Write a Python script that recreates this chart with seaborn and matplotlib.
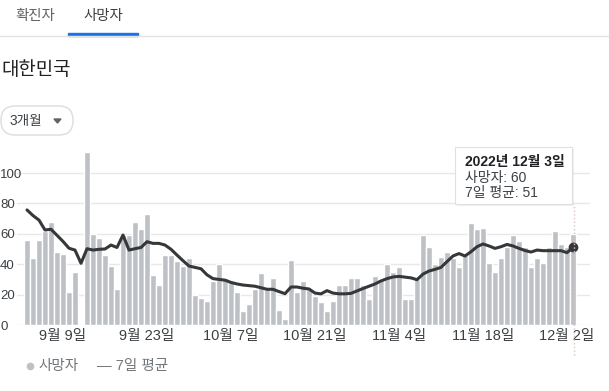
import numpy as np
import pandas as pd
import matplotlib.pyplot as plt
import seaborn as sns
from matplotlib.patches import FancyBboxPatch, Rectangle, Polygon
from matplotlib.lines import Line2D

# Daily deaths, Korea, 2022-09-03 .. 2022-12-03 (gap on 9/12 drawn as 0)
deaths = [56, 44, 56, 62, 68, 48, 47, 22, 35, 0, 114, 60, 57, 46, 39, 24,
          59, 59, 68, 63, 73, 33, 26, 46, 46, 42, 39, 44, 20, 18, 16, 29,
          40, 31, 28, 22, 9, 14, 24, 34, 24, 31, 10, 4, 43, 22, 29, 24,
          19, 15, 9, 16, 26, 26, 31, 31, 26, 17, 32, 30, 40, 35, 38, 17,
          17, 30, 59, 51, 40, 45, 48, 44, 38, 46, 67, 63, 64, 41, 35, 44,
          51, 59, 55, 51, 38, 44, 41, 51, 62, 53, 51, 60]

# 7-day average
avg7 = [75.7, 72, 69, 62.5, 63, 59, 55, 50.5, 49.3, 40.6, 50.2, 49.3, 49.8, 50, 52.6, 51,
        59.2, 49.3, 50.2, 51, 54.8, 53.7, 53.7, 52.6, 49.8, 46, 42.3, 38.8, 37.9, 37, 33, 30.5,
        30, 29.5, 28, 27, 26.3, 25.9, 25.5, 24.5, 23.5, 23.5, 22, 20.6, 25, 25, 24.2, 23.7,
        21, 20.5, 22.6, 21, 20.5, 20.5, 20.8, 22.4, 24, 25.5, 27, 29, 30.5, 31.6, 32, 31.5,
        31, 29.8, 33.5, 35.5, 36.6, 37.9, 41.7, 45.4, 47, 45.4, 48.2, 51.5, 53.3, 52, 50.4, 51.5,
        53, 52, 50.4, 49, 48, 49.3, 48.9, 48.9, 48.9, 48.9, 47.6, 51]

tick_days = [6, 20, 34, 48, 62, 76, 90]
tick_labels = ['9월 9일', '9월 23일', '10월 7일', '10월 21일', '11월 4일', '11월 18일', '12월 2일']
y_ticks = [0, 20, 40, 60, 80, 100]

df = pd.DataFrame({'day': np.arange(len(deaths)), 'deaths': deaths, 'avg': avg7})

sns.set_style('white')
plt.rcParams['font.family'] = ['Liberation Sans', 'Noto Sans CJK KR', 'DejaVu Sans']

W, H = 609, 391
fig = plt.figure(figsize=(W / 100, H / 100), dpi=100)


def P(x, y):
    # pixel (from top-left) -> inches for dpi_scale_trans
    return x / 100, (H - y) / 100


inch = fig.dpi_scale_trans

# chart area
ax = fig.add_axes([17 / W, 1 - 325 / H, (590 - 17) / W, (325 - 145) / H])
sns.barplot(data=df, x='day', y='deaths', native_scale=True, color='#bdc1c6',
            saturation=1, width=0.84, errorbar=None, ax=ax, zorder=2)
sns.lineplot(data=df, x='day', y='avg', color='#353739', lw=2.2, ax=ax, zorder=3)
ax.plot(df['day'].iloc[-1], df['avg'].iloc[-1], 'o', color='#353739', ms=6, zorder=4)

ax.set_xlim((17 - 27) / 6, (590 - 27) / 6)
ax.set_ylim(0, 180 / 1.52)
ax.set_xlabel('')
ax.set_ylabel('')
ax.set_yticks(y_ticks)
ax.set_yticklabels([str(v) for v in y_ticks])
ax.set_xticks(tick_days)
ax.set_xticklabels(tick_labels)
for lab in ax.get_yticklabels():
    lab.set_ha('left')
ax.tick_params(axis='y', length=0, pad=12.2, labelsize=9.5, labelcolor='#3c4043')
ax.tick_params(axis='x', length=0, pad=3, labelsize=10.5, labelcolor='#3c4043')
ax.yaxis.grid(True, color='#e8e8e8', lw=1)
ax.set_axisbelow(True)
sns.despine(ax=ax, left=True, bottom=True)

# tabs
fig.text(15 / W, 1 - 16 / H, '확진자', fontsize=10.4, color='#5f6368', va='center')
fig.text(83 / W, 1 - 16 / H, '사망자', fontsize=10.4, color='#3c4043', va='center')
fig.add_artist(Line2D([0, 609 / 100], [(H - 35.5) / 100] * 2, color='#e3e3e3', lw=1, transform=inch))
fig.add_artist(Rectangle(P(68, 35.5), 70 / 100, 3 / 100, color='#1a73e8', transform=inch))

# country title
fig.text(1 / W, 1 - 70 / H, '대한민국', fontsize=13.6, color='#202124', va='center')

# period button
fig.add_artist(FancyBboxPatch(P(1, 135), 72 / 100, 29 / 100,
                              boxstyle='round,pad=0,rounding_size=0.14',
                              fc='white', ec='#dadce0', lw=1, transform=inch))
fig.text(10 / W, 1 - 121 / H, '3개월', fontsize=9.8, color='#3c4043', va='center')
fig.add_artist(Polygon([P(54, 119), P(61, 119), P(57.5, 123)], closed=True,
                       color='#5f6368', transform=inch))

# hover guide line and tooltip
fig.add_artist(Line2D([574 / 100] * 2, [(H - 355) / 100, (H - 204) / 100],
                      color='#d9c4c4', lw=1, ls=':', transform=inch, zorder=1))
fig.add_artist(Rectangle(P(457, 206), 117 / 100, 57 / 100, fc='#000000', alpha=0.06,
                         ec='none', transform=inch))
fig.add_artist(Rectangle(P(455, 204), 117 / 100, 57 / 100, fc='white',
                         ec='#e0e0e0', lw=0.8, transform=inch))
fig.text(465 / W, 1 - 162 / H, '2022년 12월 3일', fontsize=10, color='#202124',
         weight='bold', va='center')
fig.text(465 / W, 1 - 178 / H, '사망자: 60', fontsize=10, color='#3c4043', va='center')
fig.text(465 / W, 1 - 193 / H, '7일 평균: 51', fontsize=10, color='#3c4043', va='center')

# legend
fig.add_artist(Line2D([30 / 100], [(H - 366) / 100], marker='o', ms=4.5, color='#bdc1c6',
                      lw=0, transform=inch))
fig.text(38 / W, 1 - 366 / H, '사망자', fontsize=10.5, color='#70757a', va='center')
fig.text(97 / W, 1 - 366 / H, '— 7일 평균', fontsize=10.5, color='#70757a', va='center')

fig.savefig('out.png', dpi=100)
